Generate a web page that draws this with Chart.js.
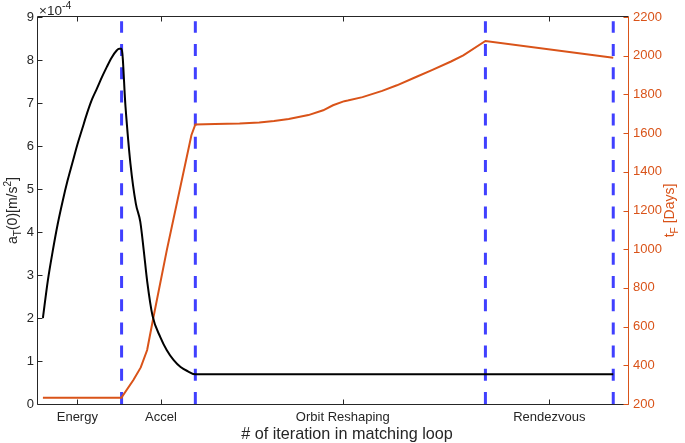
<!DOCTYPE html>
<html><head><meta charset="utf-8">
<script src="https://cdn.jsdelivr.net/npm/chart.js@4"></script>
<style>html,body{margin:0;padding:0;background:#fff}canvas{display:block}</style>
</head><body>
<canvas id="c" width="685" height="443"></canvas>
<script>
// ---- data ----
const phaseLabels = ['Energy', 'Accel', 'Orbit Reshaping', 'Rendezvous'];
const phaseTickX  = [8, 25, 62, 104];
const phaseBoundX = [17, 32, 91, 117];
const accelX = [1,2,3,4,5,6,7,8,9,10,11,12,13,14,15,16,16.5,17,17.8,18.8,19.9,20.8,21.5,22.2,23.3,24.9,26.2,27.6,29,30.5,32,117];
const accelY = [2.0,2.87,3.56,4.18,4.71,5.19,5.61,6.03,6.4,6.77,7.09,7.34,7.6,7.84,8.06,8.22,8.26,8.26,6.91,5.59,4.66,4.24,3.58,2.86,2.05,1.55,1.25,1.02,0.86,0.76,0.69,0.69]; // x1e-4 m/s^2
const tofX = [1,17,17.1,19.4,20.9,22.2,23.5,26.2,31.2,32,36,41,45,48,51,55,58,60,62.3,63,66,70,73,77,80,84,86.5,91,117];
const tofY = [232,232,238,324,389,479,651,995,1589,1645,1647,1650,1655,1662,1673,1693,1718,1744,1765,1768,1786,1818,1847,1891,1924,1970,2002,2076,1990]; // days
const leftTicks  = [0,1,2,3,4,5,6,7,8,9];
const rightTicks = [200,400,600,800,1000,1200,1400,1600,1800,2000,2200];
const boundTop = 8.9;

const FONT = '"Liberation Sans", Arial, Helvetica, sans-serif';
const AX = '#262626', OR = '#D95319', BL = '#4040ff';

const datasets = [
  { data: accelX.map((x,i)=>({x, y: accelY[i]})), yAxisID:'y', borderColor:'#000', borderWidth:2, pointRadius:0, cubicInterpolationMode:'monotone' },
  { data: tofX.map((x,i)=>({x, y: tofY[i]})), yAxisID:'y2', borderColor:OR, borderWidth:2, pointRadius:0, tension:0 }
];
phaseBoundX.forEach(b => datasets.push({
  data:[{x:b,y:0},{x:b,y:boundTop}], yAxisID:'y', borderColor:BL, borderWidth:3,
  borderDash:[12,11.2], pointRadius:0, borderCapStyle:'butt'
}));

function drawRich(ctx, parts, cx, cy, angle, color, size) {
  ctx.save();
  ctx.translate(cx, cy); ctx.rotate(angle);
  ctx.fillStyle = color; ctx.textBaseline = 'alphabetic'; ctx.textAlign = 'left';
  const fs = p => p.s ? size*0.72 : size;
  let total = 0;
  parts.forEach(p => { ctx.font = fs(p) + 'px ' + FONT; total += ctx.measureText(p.t).width; });
  let x = -total/2;
  parts.forEach(p => {
    ctx.font = fs(p) + 'px ' + FONT;
    const dy = p.s === 'sub' ? size*0.28 : p.s === 'sup' ? -size*0.45 : 0;
    ctx.fillText(p.t, x, dy);
    x += ctx.measureText(p.t).width;
  });
  ctx.restore();
}

const decor = {
  id:'decor',
  afterDraw(chart) {
    const {ctx, chartArea:a, scales} = chart;
    const L = a.left - 0.5, R = a.right + 0.5, T = a.top - 0.5, B = a.bottom + 0.5;
    ctx.save();
    ctx.lineWidth = 1;
    ctx.strokeStyle = AX;
    ctx.beginPath();
    ctx.moveTo(R, T); ctx.lineTo(L, T); ctx.lineTo(L, B); ctx.lineTo(R, B);
    phaseTickX.forEach(v => {
      const px = Math.round(scales.x.getPixelForValue(v)) + 0.5;
      ctx.moveTo(px, B); ctx.lineTo(px, B-5);
      ctx.moveTo(px, T); ctx.lineTo(px, T+5);
    });
    leftTicks.forEach(v => {
      const py = Math.round(scales.y.getPixelForValue(v)) + 0.5;
      ctx.moveTo(L, py); ctx.lineTo(L+5, py);
    });
    ctx.stroke();
    ctx.strokeStyle = OR;
    ctx.beginPath();
    ctx.moveTo(R, T); ctx.lineTo(R, B);
    rightTicks.forEach(v => {
      const py = Math.round(scales.y2.getPixelForValue(v)) + 0.5;
      ctx.moveTo(R, py); ctx.lineTo(R-5, py);
    });
    ctx.stroke();
    // exponent
    ctx.fillStyle = AX; ctx.textBaseline = 'alphabetic'; ctx.textAlign = 'left';
    ctx.font = '13.5px ' + FONT;
    ctx.fillText('\u00d710', 39, 14.5);
    const w = ctx.measureText('\u00d710').width;
    ctx.font = '10.5px ' + FONT;
    ctx.fillText('-4', 39 + w, 8.5);
    // x title
    ctx.font = '16.2px ' + FONT; ctx.textAlign = 'center';
    ctx.fillText('# of iteration in matching loop', 347, 439);
    ctx.restore();
    const cy = (a.top + a.bottom)/2;
    drawRich(ctx, [{t:'a'},{t:'T',s:'sub'},{t:'(0)[m/s'},{t:'2',s:'sup'},{t:']'}], 17, cy, -Math.PI/2, AX, 14);
    drawRich(ctx, [{t:'t'},{t:'F',s:'sub'},{t:' [Days]'}], 674, cy, -Math.PI/2, OR, 14);
  }
};

new Chart(document.getElementById('c'), {
  type:'line',
  data:{ datasets },
  options:{
    responsive:false, animation:false, devicePixelRatio:1,
    layout:{ padding:{ top:17, left:0, right:0, bottom:0 } },
    plugins:{ legend:{display:false}, tooltip:{enabled:false} },
    scales:{
      x:{ type:'linear', position:'bottom', min:0, max:120,
          grid:{display:false, drawTicks:false}, border:{display:false},
          afterBuildTicks: s => { s.ticks = phaseTickX.map(v => ({value:v})); },
          ticks:{ autoSkip:false, maxRotation:0, padding:6, color:AX, font:{family:FONT, size:13},
                  callback:(v,i) => phaseLabels[i] },
          afterFit: s => { s.height = 39; } },
      y:{ type:'linear', position:'left', min:0, max:9,
          grid:{display:false, drawTicks:false}, border:{display:false},
          afterBuildTicks: s => { s.ticks = leftTicks.map(v => ({value:v})); },
          ticks:{ padding:4, color:AX, font:{family:FONT, size:13}, callback: v => String(v) },
          afterFit: s => { s.width = 38; } },
      y2:{ type:'linear', position:'right', min:200, max:2200,
          grid:{display:false, drawTicks:false}, border:{display:false},
          afterBuildTicks: s => { s.ticks = rightTicks.map(v => ({value:v})); },
          ticks:{ padding:5, color:OR, font:{family:FONT, size:13}, callback: v => String(v) },
          afterFit: s => { s.width = 57; } }
    }
  },
  plugins:[decor]
});
</script>
</body></html>
